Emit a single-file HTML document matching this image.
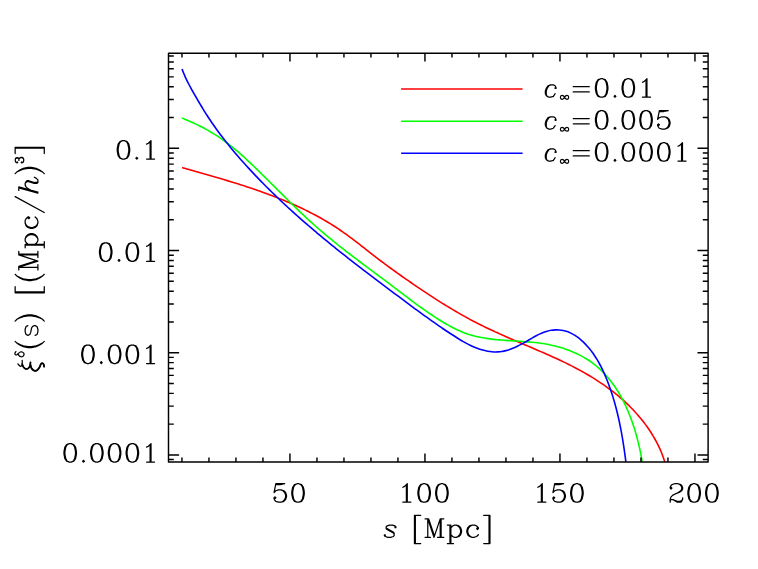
<!DOCTYPE html>
<html><head><meta charset="utf-8"><title>plot</title>
<style>html,body{margin:0;padding:0;background:#fff}svg{display:block;font-family:"Liberation Serif",serif}</style></head><body>
<svg width="758" height="569" viewBox="0 0 758 569">
<rect width="758" height="569" fill="#fff"/>
<g fill="none" stroke-width="1.6" stroke-linejoin="round">
<path stroke="#ff0000" d="M182.04 167.59 C182.61 167.75 184.34 168.24 185.49 168.56 C186.64 168.89 187.80 169.22 188.95 169.54 C190.11 169.87 191.26 170.19 192.42 170.52 C193.58 170.85 194.74 171.18 195.89 171.50 C197.05 171.83 198.21 172.16 199.37 172.49 C200.53 172.82 201.69 173.15 202.86 173.48 C204.02 173.81 205.18 174.14 206.34 174.48 C207.51 174.81 208.67 175.14 209.83 175.48 C211.00 175.81 212.16 176.15 213.32 176.49 C214.49 176.83 215.65 177.17 216.82 177.51 C217.98 177.85 219.15 178.19 220.31 178.53 C221.47 178.88 222.64 179.22 223.80 179.57 C224.97 179.92 226.13 180.27 227.29 180.62 C228.46 180.97 229.62 181.33 230.78 181.68 C231.95 182.04 233.11 182.40 234.27 182.76 C235.43 183.12 236.59 183.48 237.76 183.85 C238.92 184.21 240.08 184.58 241.24 184.95 C242.39 185.32 243.55 185.70 244.71 186.07 C245.87 186.45 247.02 186.83 248.18 187.21 C249.34 187.59 250.49 187.98 251.64 188.36 C252.80 188.75 253.95 189.14 255.10 189.54 C256.25 189.93 257.40 190.33 258.55 190.73 C259.70 191.14 260.84 191.54 261.99 191.95 C263.13 192.36 264.28 192.77 265.42 193.19 C266.56 193.60 267.70 194.03 268.84 194.45 C269.98 194.87 271.11 195.30 272.25 195.73 C273.38 196.17 274.52 196.60 275.65 197.04 C276.78 197.49 277.90 197.93 279.03 198.38 C280.16 198.83 281.28 199.29 282.40 199.74 C283.53 200.20 284.64 200.67 285.76 201.14 C286.88 201.60 287.99 202.08 289.11 202.56 C290.22 203.03 291.33 203.52 292.43 204.01 C293.54 204.49 294.64 204.99 295.75 205.49 C296.85 205.99 297.95 206.49 299.04 207.00 C300.14 207.51 301.23 208.02 302.32 208.54 C303.41 209.07 304.50 209.59 305.58 210.12 C306.66 210.66 307.74 211.19 308.82 211.74 C309.89 212.28 310.97 212.83 312.04 213.39 C313.11 213.94 314.17 214.51 315.24 215.07 C316.30 215.64 317.36 216.22 318.42 216.80 C319.47 217.38 320.52 217.97 321.57 218.56 C322.62 219.16 323.66 219.76 324.70 220.36 C325.74 220.97 326.78 221.59 327.81 222.21 C328.85 222.83 329.87 223.46 330.90 224.09 C331.92 224.73 332.94 225.37 333.96 226.02 C334.97 226.67 335.98 227.33 336.99 227.99 C338.00 228.66 339.00 229.33 340.00 230.01 C341.00 230.69 341.99 231.38 342.98 232.07 C343.97 232.76 344.95 233.46 345.93 234.17 C346.92 234.87 347.89 235.59 348.87 236.30 C349.84 237.02 350.82 237.74 351.79 238.47 C352.76 239.20 353.72 239.93 354.69 240.66 C355.65 241.39 356.62 242.13 357.58 242.87 C358.54 243.61 359.50 244.36 360.46 245.10 C361.42 245.84 362.37 246.59 363.33 247.34 C364.29 248.09 365.24 248.84 366.20 249.59 C367.15 250.33 368.11 251.08 369.07 251.83 C370.02 252.58 370.98 253.33 371.94 254.08 C372.89 254.83 373.85 255.57 374.81 256.32 C375.77 257.06 376.73 257.80 377.69 258.54 C378.66 259.28 379.62 260.02 380.59 260.75 C381.55 261.48 382.52 262.21 383.49 262.94 C384.46 263.67 385.43 264.39 386.41 265.11 C387.38 265.83 388.36 266.55 389.34 267.26 C390.31 267.98 391.29 268.69 392.28 269.40 C393.26 270.11 394.24 270.82 395.22 271.52 C396.21 272.23 397.19 272.93 398.18 273.63 C399.17 274.33 400.16 275.03 401.15 275.73 C402.14 276.43 403.13 277.13 404.12 277.82 C405.11 278.52 406.11 279.21 407.10 279.90 C408.10 280.59 409.09 281.28 410.09 281.97 C411.09 282.66 412.08 283.35 413.08 284.04 C414.08 284.73 415.08 285.41 416.08 286.09 C417.09 286.78 418.09 287.46 419.09 288.14 C420.10 288.82 421.10 289.50 422.11 290.17 C423.12 290.85 424.13 291.52 425.14 292.19 C426.15 292.86 427.16 293.53 428.17 294.20 C429.19 294.87 430.20 295.53 431.22 296.19 C432.23 296.86 433.25 297.52 434.27 298.17 C435.29 298.83 436.31 299.48 437.33 300.13 C438.36 300.78 439.38 301.43 440.41 302.08 C441.44 302.72 442.46 303.37 443.49 304.00 C444.52 304.64 445.56 305.28 446.59 305.91 C447.62 306.54 448.66 307.17 449.70 307.80 C450.74 308.42 451.78 309.05 452.82 309.66 C453.86 310.28 454.90 310.90 455.95 311.51 C457.00 312.12 458.05 312.72 459.10 313.33 C460.15 313.93 461.20 314.53 462.25 315.12 C463.31 315.72 464.37 316.31 465.43 316.90 C466.49 317.48 467.55 318.06 468.61 318.64 C469.68 319.22 470.74 319.79 471.81 320.36 C472.88 320.93 473.95 321.49 475.03 322.05 C476.10 322.61 477.18 323.16 478.26 323.71 C479.34 324.26 480.42 324.80 481.51 325.34 C482.59 325.88 483.68 326.41 484.77 326.94 C485.86 327.47 486.95 328.00 488.04 328.52 C489.14 329.04 490.23 329.56 491.33 330.07 C492.43 330.58 493.53 331.09 494.63 331.60 C495.73 332.10 496.83 332.60 497.94 333.10 C499.04 333.60 500.15 334.10 501.26 334.59 C502.36 335.09 503.47 335.58 504.58 336.07 C505.69 336.56 506.80 337.04 507.92 337.53 C509.03 338.01 510.14 338.50 511.25 338.98 C512.37 339.46 513.48 339.94 514.60 340.42 C515.71 340.89 516.83 341.37 517.94 341.85 C519.06 342.32 520.18 342.80 521.29 343.28 C522.41 343.75 523.52 344.23 524.64 344.70 C525.76 345.18 526.87 345.65 527.99 346.12 C529.11 346.60 530.22 347.08 531.34 347.55 C532.45 348.03 533.57 348.50 534.68 348.98 C535.80 349.46 536.91 349.94 538.02 350.42 C539.14 350.90 540.25 351.38 541.36 351.86 C542.47 352.35 543.58 352.83 544.69 353.32 C545.80 353.81 546.90 354.29 548.01 354.79 C549.12 355.28 550.22 355.77 551.32 356.27 C552.43 356.77 553.53 357.27 554.63 357.77 C555.73 358.27 556.82 358.78 557.92 359.29 C559.01 359.80 560.11 360.31 561.20 360.83 C562.29 361.35 563.38 361.87 564.47 362.40 C565.55 362.92 566.64 363.45 567.72 363.99 C568.80 364.52 569.88 365.06 570.95 365.61 C572.03 366.15 573.10 366.70 574.17 367.26 C575.25 367.81 576.31 368.37 577.38 368.94 C578.44 369.51 579.50 370.08 580.56 370.66 C581.62 371.24 582.67 371.82 583.72 372.41 C584.77 373.00 585.82 373.60 586.86 374.21 C587.90 374.81 588.94 375.42 589.98 376.04 C591.01 376.66 592.05 377.29 593.07 377.92 C594.10 378.55 595.12 379.20 596.14 379.85 C597.16 380.49 598.17 381.15 599.18 381.82 C600.19 382.48 601.20 383.16 602.20 383.84 C603.20 384.52 604.19 385.22 605.18 385.92 C606.17 386.62 607.16 387.33 608.14 388.04 C609.12 388.76 610.09 389.49 611.06 390.22 C612.02 390.96 612.98 391.70 613.94 392.46 C614.89 393.21 615.84 393.97 616.78 394.74 C617.72 395.51 618.65 396.29 619.58 397.08 C620.51 397.87 621.42 398.66 622.33 399.47 C623.24 400.27 624.15 401.09 625.04 401.91 C625.93 402.73 626.82 403.57 627.70 404.41 C628.57 405.25 629.44 406.10 630.30 406.96 C631.15 407.81 632.00 408.68 632.84 409.56 C633.68 410.43 634.51 411.32 635.33 412.21 C636.15 413.10 636.95 414.01 637.75 414.92 C638.55 415.83 639.34 416.75 640.11 417.68 C640.89 418.60 641.65 419.54 642.40 420.49 C643.16 421.44 643.90 422.39 644.63 423.35 C645.35 424.32 646.07 425.29 646.77 426.27 C647.48 427.26 648.17 428.25 648.85 429.25 C649.53 430.25 650.19 431.25 650.84 432.27 C651.50 433.29 652.13 434.31 652.76 435.35 C653.38 436.38 653.99 437.43 654.59 438.48 C655.18 439.53 655.77 440.60 656.33 441.67 C656.90 442.74 657.45 443.82 657.99 444.91 C658.52 445.99 659.04 447.09 659.55 448.20 C660.05 449.30 660.54 450.42 661.02 451.54 C661.49 452.67 661.95 453.80 662.39 454.94 C662.83 456.09 663.25 457.24 663.66 458.40 C664.06 459.56 664.63 461.32 664.82 461.90"/>
<path stroke="#00ff00" d="M181.81 118.01 C182.40 118.25 184.18 118.97 185.36 119.47 C186.54 119.96 187.72 120.46 188.89 120.97 C190.07 121.48 191.24 122.00 192.40 122.53 C193.56 123.06 194.72 123.60 195.87 124.14 C197.03 124.69 198.17 125.25 199.32 125.81 C200.46 126.38 201.59 126.95 202.72 127.54 C203.85 128.13 204.97 128.72 206.08 129.33 C207.20 129.94 208.30 130.56 209.40 131.19 C210.50 131.82 211.59 132.46 212.67 133.11 C213.75 133.77 214.83 134.43 215.89 135.11 C216.95 135.79 218.01 136.48 219.05 137.18 C220.10 137.88 221.13 138.60 222.16 139.32 C223.19 140.05 224.20 140.79 225.21 141.53 C226.22 142.28 227.22 143.04 228.22 143.81 C229.21 144.58 230.20 145.36 231.18 146.14 C232.16 146.93 233.13 147.73 234.10 148.53 C235.07 149.34 236.03 150.15 236.98 150.97 C237.94 151.79 238.89 152.61 239.83 153.44 C240.78 154.28 241.72 155.12 242.65 155.96 C243.59 156.80 244.52 157.65 245.45 158.50 C246.38 159.36 247.31 160.22 248.23 161.08 C249.15 161.94 250.07 162.80 250.99 163.67 C251.91 164.54 252.82 165.41 253.73 166.28 C254.65 167.15 255.56 168.03 256.47 168.90 C257.38 169.78 258.29 170.66 259.19 171.54 C260.10 172.43 261.00 173.31 261.91 174.20 C262.81 175.08 263.71 175.97 264.61 176.86 C265.52 177.75 266.42 178.64 267.31 179.53 C268.21 180.42 269.11 181.31 270.01 182.20 C270.91 183.10 271.81 183.99 272.70 184.88 C273.60 185.78 274.50 186.67 275.39 187.57 C276.29 188.46 277.18 189.36 278.08 190.26 C278.98 191.15 279.87 192.05 280.77 192.94 C281.67 193.84 282.57 194.73 283.46 195.62 C284.36 196.52 285.26 197.41 286.16 198.30 C287.06 199.19 287.96 200.09 288.86 200.98 C289.76 201.87 290.67 202.75 291.57 203.64 C292.48 204.53 293.38 205.41 294.29 206.30 C295.20 207.18 296.10 208.06 297.01 208.94 C297.93 209.82 298.84 210.70 299.75 211.57 C300.67 212.45 301.58 213.32 302.50 214.19 C303.42 215.06 304.34 215.93 305.27 216.79 C306.19 217.66 307.12 218.52 308.05 219.37 C308.98 220.23 309.91 221.09 310.84 221.94 C311.78 222.79 312.72 223.63 313.66 224.48 C314.60 225.32 315.54 226.16 316.49 226.99 C317.44 227.83 318.39 228.66 319.35 229.49 C320.30 230.31 321.26 231.14 322.22 231.96 C323.18 232.78 324.15 233.59 325.12 234.40 C326.08 235.22 327.05 236.02 328.03 236.83 C329.00 237.64 329.97 238.44 330.95 239.24 C331.93 240.04 332.91 240.83 333.90 241.63 C334.88 242.42 335.86 243.21 336.85 244.00 C337.84 244.79 338.83 245.57 339.82 246.35 C340.81 247.14 341.81 247.92 342.80 248.69 C343.80 249.47 344.80 250.25 345.80 251.02 C346.80 251.80 347.80 252.57 348.80 253.34 C349.80 254.11 350.81 254.88 351.81 255.65 C352.82 256.41 353.83 257.18 354.83 257.94 C355.84 258.71 356.85 259.47 357.86 260.23 C358.87 260.99 359.88 261.75 360.89 262.51 C361.91 263.27 362.92 264.03 363.93 264.79 C364.95 265.55 365.96 266.30 366.97 267.06 C367.99 267.82 369.00 268.57 370.02 269.33 C371.03 270.08 372.05 270.84 373.06 271.59 C374.08 272.35 375.10 273.11 376.11 273.86 C377.13 274.62 378.14 275.37 379.16 276.13 C380.17 276.88 381.19 277.64 382.20 278.40 C383.22 279.15 384.23 279.91 385.24 280.67 C386.26 281.43 387.27 282.19 388.28 282.95 C389.30 283.71 390.31 284.47 391.32 285.23 C392.33 285.99 393.34 286.75 394.34 287.52 C395.35 288.28 396.36 289.05 397.37 289.81 C398.38 290.58 399.38 291.35 400.39 292.11 C401.40 292.88 402.40 293.65 403.41 294.41 C404.42 295.18 405.43 295.94 406.44 296.71 C407.45 297.47 408.46 298.23 409.47 298.99 C410.48 299.75 411.49 300.51 412.51 301.27 C413.52 302.03 414.54 302.78 415.56 303.53 C416.58 304.29 417.60 305.04 418.63 305.78 C419.65 306.53 420.68 307.27 421.71 308.01 C422.75 308.75 423.78 309.48 424.82 310.21 C425.86 310.94 426.90 311.67 427.95 312.39 C429.00 313.11 430.05 313.82 431.10 314.53 C432.16 315.24 433.22 315.95 434.29 316.64 C435.35 317.34 436.42 318.03 437.50 318.72 C438.58 319.41 439.66 320.09 440.75 320.76 C441.84 321.43 442.93 322.09 444.04 322.74 C445.14 323.40 446.24 324.04 447.36 324.67 C448.47 325.30 449.59 325.92 450.72 326.52 C451.84 327.13 452.97 327.72 454.11 328.28 C455.25 328.85 456.39 329.41 457.54 329.94 C458.69 330.47 459.84 330.99 461.00 331.48 C462.17 331.97 463.33 332.44 464.51 332.88 C465.68 333.33 466.86 333.74 468.04 334.14 C469.22 334.53 470.42 334.90 471.61 335.24 C472.81 335.58 474.01 335.90 475.21 336.20 C476.42 336.50 477.63 336.78 478.84 337.04 C480.06 337.30 481.28 337.53 482.50 337.76 C483.73 337.98 484.95 338.18 486.19 338.37 C487.42 338.56 488.65 338.74 489.89 338.90 C491.13 339.06 492.37 339.21 493.62 339.34 C494.86 339.48 496.11 339.61 497.36 339.72 C498.62 339.84 499.87 339.95 501.13 340.05 C502.38 340.15 503.64 340.24 504.90 340.33 C506.16 340.42 507.42 340.50 508.69 340.59 C509.95 340.67 511.22 340.75 512.48 340.82 C513.75 340.90 515.02 340.98 516.29 341.06 C517.55 341.13 518.82 341.21 520.09 341.30 C521.36 341.38 522.63 341.46 523.90 341.56 C525.17 341.65 526.44 341.74 527.71 341.85 C528.98 341.95 530.25 342.06 531.52 342.18 C532.79 342.31 534.06 342.43 535.32 342.58 C536.59 342.72 537.86 342.87 539.12 343.04 C540.39 343.21 541.65 343.39 542.91 343.58 C544.17 343.78 545.43 343.99 546.69 344.22 C547.94 344.45 549.20 344.70 550.45 344.96 C551.70 345.23 552.95 345.51 554.19 345.81 C555.43 346.11 556.67 346.43 557.90 346.77 C559.14 347.11 560.36 347.46 561.58 347.84 C562.80 348.21 564.02 348.60 565.22 349.02 C566.43 349.43 567.63 349.86 568.82 350.31 C570.00 350.76 571.18 351.23 572.35 351.72 C573.52 352.21 574.68 352.72 575.83 353.24 C576.98 353.77 578.11 354.32 579.24 354.89 C580.36 355.45 581.47 356.04 582.57 356.65 C583.67 357.26 584.75 357.89 585.82 358.54 C586.89 359.18 587.95 359.85 588.99 360.54 C590.03 361.24 591.05 361.95 592.06 362.68 C593.06 363.41 594.05 364.16 595.03 364.94 C596.00 365.71 596.95 366.51 597.89 367.33 C598.83 368.14 599.74 368.98 600.65 369.83 C601.55 370.69 602.43 371.56 603.30 372.45 C604.17 373.35 605.02 374.26 605.86 375.18 C606.69 376.11 607.51 377.06 608.31 378.02 C609.11 378.98 609.90 379.96 610.67 380.95 C611.44 381.94 612.19 382.95 612.93 383.97 C613.67 384.99 614.39 386.03 615.10 387.07 C615.81 388.12 616.50 389.19 617.18 390.26 C617.86 391.33 618.52 392.42 619.17 393.52 C619.81 394.61 620.45 395.72 621.06 396.84 C621.68 397.96 622.29 399.09 622.88 400.23 C623.47 401.37 624.04 402.52 624.60 403.67 C625.17 404.83 625.71 405.99 626.25 407.16 C626.78 408.33 627.30 409.51 627.81 410.70 C628.32 411.88 628.81 413.07 629.29 414.27 C629.77 415.47 630.24 416.67 630.70 417.87 C631.15 419.08 631.60 420.29 632.03 421.51 C632.46 422.72 632.88 423.94 633.28 425.16 C633.69 426.37 634.08 427.60 634.47 428.82 C634.85 430.04 635.22 431.27 635.58 432.49 C635.94 433.72 636.29 434.94 636.62 436.17 C636.96 437.39 637.28 438.61 637.60 439.84 C637.91 441.06 638.22 442.28 638.51 443.50 C638.80 444.71 639.08 445.93 639.36 447.14 C639.63 448.35 639.89 449.56 640.14 450.76 C640.39 451.97 640.64 453.17 640.87 454.36 C641.10 455.55 641.32 456.74 641.54 457.92 C641.75 459.10 642.05 460.86 642.15 461.45"/>
<path stroke="#0000ff" d="M182.03 68.94 C182.27 69.58 182.97 71.53 183.49 72.81 C184.00 74.09 184.54 75.35 185.10 76.60 C185.66 77.85 186.25 79.09 186.85 80.33 C187.45 81.56 188.07 82.78 188.70 84.00 C189.34 85.22 189.99 86.43 190.65 87.63 C191.30 88.84 191.97 90.04 192.65 91.24 C193.32 92.44 194.00 93.63 194.68 94.83 C195.36 96.02 196.05 97.22 196.74 98.41 C197.43 99.60 198.12 100.79 198.82 101.98 C199.52 103.16 200.23 104.35 200.94 105.53 C201.65 106.71 202.36 107.89 203.09 109.06 C203.81 110.24 204.53 111.41 205.27 112.57 C206.00 113.74 206.74 114.90 207.49 116.05 C208.24 117.21 208.99 118.36 209.76 119.51 C210.52 120.65 211.29 121.79 212.07 122.93 C212.85 124.06 213.63 125.19 214.42 126.32 C215.22 127.44 216.02 128.56 216.82 129.68 C217.63 130.79 218.44 131.90 219.26 133.01 C220.08 134.11 220.90 135.21 221.74 136.31 C222.57 137.40 223.41 138.49 224.25 139.58 C225.10 140.66 225.95 141.74 226.80 142.82 C227.66 143.90 228.52 144.97 229.39 146.04 C230.25 147.10 231.13 148.17 232.00 149.23 C232.88 150.29 233.77 151.34 234.65 152.39 C235.54 153.44 236.43 154.49 237.33 155.53 C238.23 156.57 239.13 157.61 240.04 158.65 C240.94 159.68 241.86 160.71 242.77 161.74 C243.69 162.77 244.61 163.79 245.53 164.81 C246.45 165.83 247.38 166.85 248.31 167.86 C249.24 168.87 250.17 169.88 251.11 170.89 C252.05 171.90 252.99 172.90 253.93 173.90 C254.88 174.90 255.82 175.89 256.78 176.89 C257.73 177.88 258.68 178.87 259.64 179.86 C260.59 180.84 261.55 181.83 262.52 182.81 C263.48 183.79 264.45 184.77 265.42 185.74 C266.39 186.71 267.36 187.69 268.34 188.65 C269.31 189.62 270.29 190.59 271.27 191.55 C272.25 192.51 273.24 193.47 274.22 194.43 C275.21 195.38 276.20 196.34 277.19 197.29 C278.19 198.24 279.18 199.19 280.18 200.13 C281.18 201.08 282.18 202.02 283.18 202.96 C284.19 203.90 285.19 204.84 286.20 205.77 C287.21 206.70 288.22 207.64 289.24 208.56 C290.25 209.49 291.27 210.42 292.29 211.34 C293.31 212.27 294.33 213.19 295.35 214.11 C296.37 215.02 297.40 215.94 298.43 216.85 C299.46 217.77 300.49 218.68 301.52 219.59 C302.55 220.50 303.59 221.40 304.63 222.31 C305.66 223.21 306.70 224.11 307.74 225.01 C308.79 225.91 309.83 226.81 310.87 227.70 C311.92 228.60 312.97 229.49 314.02 230.38 C315.07 231.27 316.12 232.16 317.17 233.05 C318.22 233.93 319.28 234.82 320.34 235.70 C321.39 236.58 322.45 237.46 323.51 238.34 C324.57 239.21 325.64 240.09 326.70 240.96 C327.76 241.84 328.83 242.71 329.90 243.58 C330.97 244.45 332.03 245.32 333.10 246.18 C334.17 247.05 335.25 247.91 336.32 248.78 C337.39 249.64 338.47 250.50 339.55 251.36 C340.62 252.22 341.70 253.08 342.78 253.93 C343.86 254.79 344.94 255.64 346.02 256.49 C347.10 257.35 348.18 258.20 349.27 259.05 C350.35 259.89 351.44 260.74 352.52 261.59 C353.61 262.43 354.70 263.28 355.79 264.12 C356.88 264.96 357.97 265.81 359.06 266.65 C360.15 267.49 361.24 268.32 362.33 269.16 C363.42 270.00 364.52 270.84 365.61 271.67 C366.70 272.51 367.80 273.34 368.89 274.17 C369.99 275.01 371.09 275.84 372.18 276.67 C373.28 277.50 374.38 278.33 375.47 279.16 C376.57 279.99 377.67 280.82 378.77 281.65 C379.87 282.47 380.96 283.30 382.06 284.13 C383.16 284.95 384.26 285.78 385.36 286.60 C386.46 287.43 387.56 288.25 388.66 289.08 C389.76 289.90 390.86 290.72 391.96 291.55 C393.06 292.37 394.16 293.19 395.26 294.02 C396.36 294.84 397.46 295.66 398.55 296.48 C399.65 297.30 400.75 298.13 401.85 298.95 C402.95 299.77 404.05 300.59 405.15 301.41 C406.25 302.23 407.35 303.05 408.45 303.87 C409.55 304.69 410.65 305.51 411.75 306.32 C412.85 307.14 413.95 307.95 415.06 308.77 C416.16 309.58 417.26 310.40 418.37 311.21 C419.48 312.02 420.58 312.83 421.69 313.63 C422.80 314.44 423.91 315.25 425.03 316.05 C426.14 316.85 427.25 317.66 428.37 318.45 C429.49 319.25 430.61 320.05 431.73 320.84 C432.85 321.64 433.98 322.43 435.10 323.22 C436.23 324.01 437.36 324.79 438.49 325.57 C439.63 326.36 440.76 327.13 441.90 327.91 C443.04 328.69 444.19 329.46 445.33 330.23 C446.48 331.00 447.63 331.76 448.78 332.52 C449.94 333.28 451.10 334.04 452.26 334.79 C453.42 335.55 454.59 336.30 455.76 337.04 C456.93 337.78 458.11 338.52 459.29 339.24 C460.48 339.96 461.67 340.67 462.87 341.36 C464.07 342.05 465.28 342.72 466.50 343.37 C467.72 344.02 468.95 344.65 470.19 345.25 C471.43 345.85 472.69 346.43 473.96 346.97 C475.22 347.51 476.51 348.02 477.80 348.49 C479.10 348.96 480.42 349.40 481.74 349.79 C483.07 350.18 484.42 350.53 485.76 350.83 C487.11 351.12 488.47 351.37 489.82 351.56 C491.18 351.74 492.54 351.87 493.89 351.93 C495.24 351.99 496.59 351.98 497.92 351.90 C499.26 351.82 500.58 351.67 501.90 351.45 C503.22 351.23 504.52 350.95 505.82 350.61 C507.12 350.27 508.41 349.87 509.69 349.43 C510.97 348.99 512.24 348.50 513.51 347.97 C514.77 347.44 516.03 346.87 517.28 346.27 C518.53 345.67 519.78 345.03 521.02 344.38 C522.25 343.72 523.49 343.04 524.71 342.35 C525.94 341.66 527.16 340.94 528.38 340.23 C529.60 339.52 530.81 338.80 532.03 338.10 C533.26 337.40 534.48 336.70 535.71 336.04 C536.95 335.38 538.19 334.73 539.45 334.14 C540.71 333.56 541.98 333.00 543.27 332.51 C544.56 332.02 545.87 331.57 547.18 331.21 C548.49 330.84 549.82 330.53 551.16 330.31 C552.49 330.09 553.83 329.94 555.18 329.89 C556.52 329.83 557.87 329.86 559.21 329.97 C560.55 330.08 561.89 330.27 563.21 330.54 C564.53 330.81 565.84 331.16 567.13 331.59 C568.41 332.01 569.68 332.52 570.91 333.10 C572.14 333.68 573.34 334.34 574.51 335.06 C575.68 335.77 576.82 336.57 577.93 337.40 C579.03 338.23 580.11 339.12 581.15 340.04 C582.20 340.95 583.21 341.92 584.19 342.90 C585.18 343.87 586.13 344.88 587.05 345.91 C587.97 346.93 588.87 347.98 589.73 349.05 C590.60 350.12 591.44 351.21 592.25 352.32 C593.06 353.43 593.85 354.55 594.61 355.70 C595.37 356.84 596.11 358.00 596.83 359.17 C597.54 360.35 598.23 361.54 598.90 362.74 C599.58 363.94 600.23 365.16 600.86 366.39 C601.49 367.61 602.10 368.85 602.69 370.10 C603.28 371.35 603.86 372.60 604.42 373.87 C604.98 375.13 605.52 376.40 606.04 377.68 C606.57 378.96 607.08 380.24 607.58 381.53 C608.08 382.81 608.57 384.10 609.04 385.40 C609.52 386.69 609.98 387.99 610.43 389.28 C610.88 390.58 611.31 391.89 611.74 393.19 C612.17 394.50 612.58 395.81 612.98 397.12 C613.39 398.43 613.78 399.74 614.16 401.06 C614.54 402.38 614.91 403.70 615.27 405.02 C615.63 406.34 615.99 407.67 616.33 409.00 C616.67 410.32 617.00 411.65 617.32 412.99 C617.65 414.32 617.96 415.65 618.27 416.99 C618.57 418.33 618.87 419.67 619.16 421.01 C619.44 422.35 619.72 423.70 620.00 425.04 C620.27 426.39 620.53 427.73 620.79 429.08 C621.05 430.43 621.30 431.79 621.55 433.14 C621.79 434.49 622.03 435.85 622.26 437.21 C622.49 438.56 622.72 439.92 622.94 441.28 C623.16 442.64 623.37 444.00 623.58 445.37 C623.79 446.73 623.99 448.09 624.19 449.46 C624.39 450.82 624.58 452.19 624.77 453.56 C624.96 454.93 625.15 456.30 625.33 457.67 C625.51 459.04 625.78 461.10 625.87 461.78"/>
</g>
<g stroke-width="1.5">
<line x1="401.1" x2="522.6" y1="89.1" y2="89.1" stroke="#ff0000"/>
<line x1="401.1" x2="522.6" y1="121.2" y2="121.2" stroke="#00ff00"/>
<line x1="401.1" x2="522.6" y1="153.2" y2="153.2" stroke="#0000ff"/>
</g>
<path d="M168.50 53.20 H708.10 V462.00 H168.50 ZM181.95 462.00v-4.40M181.95 53.20v4.40M208.95 462.00v-4.40M208.95 53.20v4.40M235.95 462.00v-4.40M235.95 53.20v4.40M262.95 462.00v-4.40M262.95 53.20v4.40M289.95 462.00v-8.40M289.95 53.20v8.40M316.95 462.00v-4.40M316.95 53.20v4.40M343.95 462.00v-4.40M343.95 53.20v4.40M370.95 462.00v-4.40M370.95 53.20v4.40M397.95 462.00v-4.40M397.95 53.20v4.40M424.95 462.00v-8.40M424.95 53.20v8.40M451.95 462.00v-4.40M451.95 53.20v4.40M478.95 462.00v-4.40M478.95 53.20v4.40M505.95 462.00v-4.40M505.95 53.20v4.40M532.95 462.00v-4.40M532.95 53.20v4.40M559.95 462.00v-8.40M559.95 53.20v8.40M586.95 462.00v-4.40M586.95 53.20v4.40M613.95 462.00v-4.40M613.95 53.20v4.40M640.95 462.00v-4.40M640.95 53.20v4.40M667.95 462.00v-4.40M667.95 53.20v4.40M694.95 462.00v-8.40M694.95 53.20v8.40M168.50 459.58h5.30M708.10 459.58h-5.30M168.50 454.90h10.60M708.10 454.90h-10.60M168.50 424.13h5.30M708.10 424.13h-5.30M168.50 406.14h5.30M708.10 406.14h-5.30M168.50 393.37h5.30M708.10 393.37h-5.30M168.50 383.47h5.30M708.10 383.47h-5.30M168.50 375.37h5.30M708.10 375.37h-5.30M168.50 368.53h5.30M708.10 368.53h-5.30M168.50 362.60h5.30M708.10 362.60h-5.30M168.50 357.38h5.30M708.10 357.38h-5.30M168.50 352.70h10.60M708.10 352.70h-10.60M168.50 321.93h5.30M708.10 321.93h-5.30M168.50 303.94h5.30M708.10 303.94h-5.30M168.50 291.17h5.30M708.10 291.17h-5.30M168.50 281.27h5.30M708.10 281.27h-5.30M168.50 273.17h5.30M708.10 273.17h-5.30M168.50 266.33h5.30M708.10 266.33h-5.30M168.50 260.40h5.30M708.10 260.40h-5.30M168.50 255.18h5.30M708.10 255.18h-5.30M168.50 250.50h10.60M708.10 250.50h-10.60M168.50 219.73h5.30M708.10 219.73h-5.30M168.50 201.74h5.30M708.10 201.74h-5.30M168.50 188.97h5.30M708.10 188.97h-5.30M168.50 179.07h5.30M708.10 179.07h-5.30M168.50 170.97h5.30M708.10 170.97h-5.30M168.50 164.13h5.30M708.10 164.13h-5.30M168.50 158.20h5.30M708.10 158.20h-5.30M168.50 152.98h5.30M708.10 152.98h-5.30M168.50 148.30h10.60M708.10 148.30h-10.60M168.50 117.53h5.30M708.10 117.53h-5.30M168.50 99.54h5.30M708.10 99.54h-5.30M168.50 86.77h5.30M708.10 86.77h-5.30M168.50 76.87h5.30M708.10 76.87h-5.30M168.50 68.77h5.30M708.10 68.77h-5.30M168.50 61.93h5.30M708.10 61.93h-5.30M168.50 56.00h5.30M708.10 56.00h-5.30" fill="none" stroke="#000" stroke-width="1.45" stroke-linejoin="round"/>
<path d="M118.15 144.14L117.26 148.54L117.26 151.18L118.15 155.58L119.93 158.22L122.59 159.10L120.82 158.22L119.93 157.34L119.04 155.58L118.15 151.18L118.15 148.54L119.04 144.14L119.93 142.38L120.82 141.50L122.59 140.62L119.93 141.50L118.15 144.14M127.92 144.14L128.81 148.54L128.81 151.18L127.92 155.58L127.03 157.34L126.14 158.22L124.37 159.10L127.03 158.22L128.81 155.58L129.70 151.18L129.70 148.54L128.81 144.14L127.03 141.50L124.37 140.62L126.14 141.50L127.03 142.38L127.92 144.14M122.59 140.62L124.37 140.62M122.59 159.10L124.37 159.10M136.80 157.34L135.91 158.22L136.80 159.10L137.69 158.22L136.80 157.34M151.01 159.10L151.01 140.62L148.34 143.26L146.57 144.14M150.12 141.50L150.12 159.10M146.57 159.10L154.56 159.10M100.39 246.34L99.50 250.74L99.50 253.38L100.39 257.78L102.17 260.42L104.83 261.30L103.06 260.42L102.17 259.54L101.28 257.78L100.39 253.38L100.39 250.74L101.28 246.34L102.17 244.58L103.06 243.70L104.83 242.82L102.17 243.70L100.39 246.34M110.16 246.34L111.05 250.74L111.05 253.38L110.16 257.78L109.27 259.54L108.38 260.42L106.61 261.30L109.27 260.42L111.05 257.78L111.94 253.38L111.94 250.74L111.05 246.34L109.27 243.70L106.61 242.82L108.38 243.70L109.27 244.58L110.16 246.34M104.83 242.82L106.61 242.82M104.83 261.30L106.61 261.30M119.04 259.54L118.15 260.42L119.04 261.30L119.93 260.42L119.04 259.54M127.03 246.34L126.14 250.74L126.14 253.38L127.03 257.78L128.81 260.42L131.47 261.30L129.70 260.42L128.81 259.54L127.92 257.78L127.03 253.38L127.03 250.74L127.92 246.34L128.81 244.58L129.70 243.70L131.47 242.82L128.81 243.70L127.03 246.34M136.80 246.34L137.69 250.74L137.69 253.38L136.80 257.78L135.91 259.54L135.02 260.42L133.25 261.30L135.91 260.42L137.69 257.78L138.58 253.38L138.58 250.74L137.69 246.34L135.91 243.70L133.25 242.82L135.02 243.70L135.91 244.58L136.80 246.34M131.47 242.82L133.25 242.82M131.47 261.30L133.25 261.30M151.01 261.30L151.01 242.82L148.34 245.46L146.57 246.34M150.12 243.70L150.12 261.30M146.57 261.30L154.56 261.30M82.63 348.54L81.74 352.94L81.74 355.58L82.63 359.98L84.41 362.62L87.07 363.50L85.30 362.62L84.41 361.74L83.52 359.98L82.63 355.58L82.63 352.94L83.52 348.54L84.41 346.78L85.30 345.90L87.07 345.02L84.41 345.90L82.63 348.54M92.40 348.54L93.29 352.94L93.29 355.58L92.40 359.98L91.51 361.74L90.62 362.62L88.85 363.50L91.51 362.62L93.29 359.98L94.18 355.58L94.18 352.94L93.29 348.54L91.51 345.90L88.85 345.02L90.62 345.90L91.51 346.78L92.40 348.54M87.07 345.02L88.85 345.02M87.07 363.50L88.85 363.50M101.28 361.74L100.39 362.62L101.28 363.50L102.17 362.62L101.28 361.74M109.27 348.54L108.38 352.94L108.38 355.58L109.27 359.98L111.05 362.62L113.71 363.50L111.94 362.62L111.05 361.74L110.16 359.98L109.27 355.58L109.27 352.94L110.16 348.54L111.05 346.78L111.94 345.90L113.71 345.02L111.05 345.90L109.27 348.54M119.04 348.54L119.93 352.94L119.93 355.58L119.04 359.98L118.15 361.74L117.26 362.62L115.49 363.50L118.15 362.62L119.93 359.98L120.82 355.58L120.82 352.94L119.93 348.54L118.15 345.90L115.49 345.02L117.26 345.90L118.15 346.78L119.04 348.54M113.71 345.02L115.49 345.02M113.71 363.50L115.49 363.50M127.03 348.54L126.14 352.94L126.14 355.58L127.03 359.98L128.81 362.62L131.47 363.50L129.70 362.62L128.81 361.74L127.92 359.98L127.03 355.58L127.03 352.94L127.92 348.54L128.81 346.78L129.70 345.90L131.47 345.02L128.81 345.90L127.03 348.54M136.80 348.54L137.69 352.94L137.69 355.58L136.80 359.98L135.91 361.74L135.02 362.62L133.25 363.50L135.91 362.62L137.69 359.98L138.58 355.58L138.58 352.94L137.69 348.54L135.91 345.90L133.25 345.02L135.02 345.90L135.91 346.78L136.80 348.54M131.47 345.02L133.25 345.02M131.47 363.50L133.25 363.50M151.01 363.50L151.01 345.02L148.34 347.66L146.57 348.54M150.12 345.90L150.12 363.50M146.57 363.50L154.56 363.50M64.87 447.14L63.98 451.54L63.98 454.18L64.87 458.58L66.65 461.22L69.31 462.10L67.54 461.22L66.65 460.34L65.76 458.58L64.87 454.18L64.87 451.54L65.76 447.14L66.65 445.38L67.54 444.50L69.31 443.62L66.65 444.50L64.87 447.14M74.64 447.14L75.53 451.54L75.53 454.18L74.64 458.58L73.75 460.34L72.86 461.22L71.09 462.10L73.75 461.22L75.53 458.58L76.42 454.18L76.42 451.54L75.53 447.14L73.75 444.50L71.09 443.62L72.86 444.50L73.75 445.38L74.64 447.14M69.31 443.62L71.09 443.62M69.31 462.10L71.09 462.10M83.52 460.34L82.63 461.22L83.52 462.10L84.41 461.22L83.52 460.34M91.51 447.14L90.62 451.54L90.62 454.18L91.51 458.58L93.29 461.22L95.95 462.10L94.18 461.22L93.29 460.34L92.40 458.58L91.51 454.18L91.51 451.54L92.40 447.14L93.29 445.38L94.18 444.50L95.95 443.62L93.29 444.50L91.51 447.14M101.28 447.14L102.17 451.54L102.17 454.18L101.28 458.58L100.39 460.34L99.50 461.22L97.73 462.10L100.39 461.22L102.17 458.58L103.06 454.18L103.06 451.54L102.17 447.14L100.39 444.50L97.73 443.62L99.50 444.50L100.39 445.38L101.28 447.14M95.95 443.62L97.73 443.62M95.95 462.10L97.73 462.10M109.27 447.14L108.38 451.54L108.38 454.18L109.27 458.58L111.05 461.22L113.71 462.10L111.94 461.22L111.05 460.34L110.16 458.58L109.27 454.18L109.27 451.54L110.16 447.14L111.05 445.38L111.94 444.50L113.71 443.62L111.05 444.50L109.27 447.14M119.04 447.14L119.93 451.54L119.93 454.18L119.04 458.58L118.15 460.34L117.26 461.22L115.49 462.10L118.15 461.22L119.93 458.58L120.82 454.18L120.82 451.54L119.93 447.14L118.15 444.50L115.49 443.62L117.26 444.50L118.15 445.38L119.04 447.14M113.71 443.62L115.49 443.62M113.71 462.10L115.49 462.10M127.03 447.14L126.14 451.54L126.14 454.18L127.03 458.58L128.81 461.22L131.47 462.10L129.70 461.22L128.81 460.34L127.92 458.58L127.03 454.18L127.03 451.54L127.92 447.14L128.81 445.38L129.70 444.50L131.47 443.62L128.81 444.50L127.03 447.14M136.80 447.14L137.69 451.54L137.69 454.18L136.80 458.58L135.91 460.34L135.02 461.22L133.25 462.10L135.91 461.22L137.69 458.58L138.58 454.18L138.58 451.54L137.69 447.14L135.91 444.50L133.25 443.62L135.02 444.50L135.91 445.38L136.80 447.14M131.47 443.62L133.25 443.62M131.47 462.10L133.25 462.10M151.01 462.10L151.01 443.62L148.34 446.26L146.57 447.14M150.12 444.50L150.12 462.10M146.57 462.10L154.56 462.10M275.83 484.60L280.27 484.60L284.71 483.72L275.83 483.72L274.05 492.52L275.83 490.76L278.49 489.88L281.16 489.88L283.82 490.76L285.60 492.52L286.49 495.16L286.49 496.92L285.60 499.56L283.82 501.32L281.16 502.20L278.49 502.20L275.83 501.32L274.94 500.44L274.05 498.68L274.05 497.80L274.94 496.92L275.83 497.80L274.94 498.68M281.16 489.88L282.93 490.76L284.71 492.52L285.60 495.16L285.60 496.92L284.71 499.56L282.93 501.32L281.16 502.20M292.70 487.24L291.81 491.64L291.81 494.28L292.70 498.68L294.48 501.32L297.14 502.20L295.37 501.32L294.48 500.44L293.59 498.68L292.70 494.28L292.70 491.64L293.59 487.24L294.48 485.48L295.37 484.60L297.14 483.72L294.48 484.60L292.70 487.24M302.47 487.24L303.36 491.64L303.36 494.28L302.47 498.68L301.58 500.44L300.69 501.32L298.92 502.20L301.58 501.32L303.36 498.68L304.25 494.28L304.25 491.64L303.36 487.24L301.58 484.60L298.92 483.72L300.69 484.60L301.58 485.48L302.47 487.24M297.14 483.72L298.92 483.72M297.14 502.20L298.92 502.20M407.28 502.20L407.28 483.72L404.61 486.36L402.84 487.24M406.39 484.60L406.39 502.20M402.84 502.20L410.83 502.20M418.82 487.24L417.93 491.64L417.93 494.28L418.82 498.68L420.60 501.32L423.26 502.20L421.49 501.32L420.60 500.44L419.71 498.68L418.82 494.28L418.82 491.64L419.71 487.24L420.60 485.48L421.49 484.60L423.26 483.72L420.60 484.60L418.82 487.24M428.59 487.24L429.48 491.64L429.48 494.28L428.59 498.68L427.70 500.44L426.81 501.32L425.04 502.20L427.70 501.32L429.48 498.68L430.37 494.28L430.37 491.64L429.48 487.24L427.70 484.60L425.04 483.72L426.81 484.60L427.70 485.48L428.59 487.24M423.26 483.72L425.04 483.72M423.26 502.20L425.04 502.20M436.58 487.24L435.69 491.64L435.69 494.28L436.58 498.68L438.36 501.32L441.02 502.20L439.25 501.32L438.36 500.44L437.47 498.68L436.58 494.28L436.58 491.64L437.47 487.24L438.36 485.48L439.25 484.60L441.02 483.72L438.36 484.60L436.58 487.24M446.35 487.24L447.24 491.64L447.24 494.28L446.35 498.68L445.46 500.44L444.57 501.32L442.80 502.20L445.46 501.32L447.24 498.68L448.13 494.28L448.13 491.64L447.24 487.24L445.46 484.60L442.80 483.72L444.57 484.60L445.46 485.48L446.35 487.24M441.02 483.72L442.80 483.72M441.02 502.20L442.80 502.20M542.28 502.20L542.28 483.72L539.61 486.36L537.84 487.24M541.39 484.60L541.39 502.20M537.84 502.20L545.83 502.20M554.71 484.60L559.15 484.60L563.59 483.72L554.71 483.72L552.93 492.52L554.71 490.76L557.37 489.88L560.04 489.88L562.70 490.76L564.48 492.52L565.37 495.16L565.37 496.92L564.48 499.56L562.70 501.32L560.04 502.20L557.37 502.20L554.71 501.32L553.82 500.44L552.93 498.68L552.93 497.80L553.82 496.92L554.71 497.80L553.82 498.68M560.04 489.88L561.81 490.76L563.59 492.52L564.48 495.16L564.48 496.92L563.59 499.56L561.81 501.32L560.04 502.20M571.58 487.24L570.69 491.64L570.69 494.28L571.58 498.68L573.36 501.32L576.02 502.20L574.25 501.32L573.36 500.44L572.47 498.68L571.58 494.28L571.58 491.64L572.47 487.24L573.36 485.48L574.25 484.60L576.02 483.72L573.36 484.60L571.58 487.24M581.35 487.24L582.24 491.64L582.24 494.28L581.35 498.68L580.46 500.44L579.57 501.32L577.80 502.20L580.46 501.32L582.24 498.68L583.13 494.28L583.13 491.64L582.24 487.24L580.46 484.60L577.80 483.72L579.57 484.60L580.46 485.48L581.35 487.24M576.02 483.72L577.80 483.72M576.02 502.20L577.80 502.20M674.61 494.28L679.05 492.52L681.72 490.76L682.61 489.00L682.61 487.24L681.72 485.48L680.83 484.60L678.17 483.72L674.61 483.72L671.95 484.60L671.06 485.48L670.17 487.24L670.17 488.12L671.06 489.00L671.95 488.12L671.06 487.24M670.17 502.20L670.17 499.56L671.06 496.92L672.84 495.16L678.17 492.52L680.83 490.76L681.72 489.00L681.72 487.24L680.83 485.48L679.94 484.60L678.17 483.72M682.61 497.80L682.61 499.56L681.72 501.32L680.83 502.20L677.28 502.20L672.84 499.56L677.28 501.32L679.94 501.32L681.72 500.44L682.61 499.56M670.17 500.44L671.06 499.56L672.84 499.56M688.82 487.24L687.93 491.64L687.93 494.28L688.82 498.68L690.60 501.32L693.26 502.20L691.49 501.32L690.60 500.44L689.71 498.68L688.82 494.28L688.82 491.64L689.71 487.24L690.60 485.48L691.49 484.60L693.26 483.72L690.60 484.60L688.82 487.24M698.59 487.24L699.48 491.64L699.48 494.28L698.59 498.68L697.70 500.44L696.81 501.32L695.04 502.20L697.70 501.32L699.48 498.68L700.37 494.28L700.37 491.64L699.48 487.24L697.70 484.60L695.04 483.72L696.81 484.60L697.70 485.48L698.59 487.24M693.26 483.72L695.04 483.72M693.26 502.20L695.04 502.20M706.58 487.24L705.69 491.64L705.69 494.28L706.58 498.68L708.36 501.32L711.02 502.20L709.25 501.32L708.36 500.44L707.47 498.68L706.58 494.28L706.58 491.64L707.47 487.24L708.36 485.48L709.25 484.60L711.02 483.72L708.36 484.60L706.58 487.24M716.35 487.24L717.24 491.64L717.24 494.28L716.35 498.68L715.46 500.44L714.57 501.32L712.80 502.20L715.46 501.32L717.24 498.68L718.13 494.28L718.13 491.64L717.24 487.24L715.46 484.60L712.80 483.72L714.57 484.60L715.46 485.48L716.35 487.24M711.02 483.72L712.80 483.72M711.02 502.20L712.80 502.20M555.13 93.68L553.36 96.32L550.69 97.20L548.92 97.20L547.14 96.32L546.25 94.56L546.25 91.04L547.14 88.40L548.92 85.76L550.69 84.88L548.03 85.76L546.25 88.40L545.36 91.04L545.36 93.68L546.25 95.44L547.14 96.32M555.13 87.52L555.13 88.40L556.02 88.40L556.02 87.52L555.13 85.76L553.36 84.88L550.69 84.88M564.54 97.35C565.74 94.80 568.69 94.80 568.69 97.35C568.69 99.90 565.74 99.90 564.54 97.35C563.34 94.80 560.39 94.80 560.39 97.35C560.39 99.90 563.34 99.90 564.54 97.35M573.25 86.64L589.23 86.64M573.25 91.92L589.23 91.92M596.34 82.24L595.45 86.64L595.45 89.28L596.34 93.68L598.11 96.32L600.78 97.20L599.00 96.32L598.11 95.44L597.22 93.68L596.34 89.28L596.34 86.64L597.22 82.24L598.11 80.48L599.00 79.60L600.78 78.72L598.11 79.60L596.34 82.24M606.10 82.24L606.99 86.64L606.99 89.28L606.10 93.68L605.22 95.44L604.33 96.32L602.55 97.20L605.22 96.32L606.99 93.68L607.88 89.28L607.88 86.64L606.99 82.24L605.22 79.60L602.55 78.72L604.33 79.60L605.22 80.48L606.10 82.24M600.78 78.72L602.55 78.72M600.78 97.20L602.55 97.20M614.98 95.44L614.10 96.32L614.98 97.20L615.87 96.32L614.98 95.44M622.98 82.24L622.09 86.64L622.09 89.28L622.98 93.68L624.75 96.32L627.42 97.20L625.64 96.32L624.75 95.44L623.86 93.68L622.98 89.28L622.98 86.64L623.86 82.24L624.75 80.48L625.64 79.60L627.42 78.72L624.75 79.60L622.98 82.24M632.74 82.24L633.63 86.64L633.63 89.28L632.74 93.68L631.86 95.44L630.97 96.32L629.19 97.20L631.86 96.32L633.63 93.68L634.52 89.28L634.52 86.64L633.63 82.24L631.86 79.60L629.19 78.72L630.97 79.60L631.86 80.48L632.74 82.24M627.42 78.72L629.19 78.72M627.42 97.20L629.19 97.20M646.95 97.20L646.95 78.72L644.29 81.36L642.51 82.24M646.06 79.60L646.06 97.20M642.51 97.20L650.50 97.20M555.13 125.58L553.36 128.22L550.69 129.10L548.92 129.10L547.14 128.22L546.25 126.46L546.25 122.94L547.14 120.30L548.92 117.66L550.69 116.78L548.03 117.66L546.25 120.30L545.36 122.94L545.36 125.58L546.25 127.34L547.14 128.22M555.13 119.42L555.13 120.30L556.02 120.30L556.02 119.42L555.13 117.66L553.36 116.78L550.69 116.78M564.54 129.25C565.74 126.70 568.69 126.70 568.69 129.25C568.69 131.80 565.74 131.80 564.54 129.25C563.34 126.70 560.39 126.70 560.39 129.25C560.39 131.80 563.34 131.80 564.54 129.25M573.25 118.54L589.23 118.54M573.25 123.82L589.23 123.82M596.34 114.14L595.45 118.54L595.45 121.18L596.34 125.58L598.11 128.22L600.78 129.10L599.00 128.22L598.11 127.34L597.22 125.58L596.34 121.18L596.34 118.54L597.22 114.14L598.11 112.38L599.00 111.50L600.78 110.62L598.11 111.50L596.34 114.14M606.10 114.14L606.99 118.54L606.99 121.18L606.10 125.58L605.22 127.34L604.33 128.22L602.55 129.10L605.22 128.22L606.99 125.58L607.88 121.18L607.88 118.54L606.99 114.14L605.22 111.50L602.55 110.62L604.33 111.50L605.22 112.38L606.10 114.14M600.78 110.62L602.55 110.62M600.78 129.10L602.55 129.10M614.98 127.34L614.10 128.22L614.98 129.10L615.87 128.22L614.98 127.34M622.98 114.14L622.09 118.54L622.09 121.18L622.98 125.58L624.75 128.22L627.42 129.10L625.64 128.22L624.75 127.34L623.86 125.58L622.98 121.18L622.98 118.54L623.86 114.14L624.75 112.38L625.64 111.50L627.42 110.62L624.75 111.50L622.98 114.14M632.74 114.14L633.63 118.54L633.63 121.18L632.74 125.58L631.86 127.34L630.97 128.22L629.19 129.10L631.86 128.22L633.63 125.58L634.52 121.18L634.52 118.54L633.63 114.14L631.86 111.50L629.19 110.62L630.97 111.50L631.86 112.38L632.74 114.14M627.42 110.62L629.19 110.62M627.42 129.10L629.19 129.10M640.74 114.14L639.85 118.54L639.85 121.18L640.74 125.58L642.51 128.22L645.18 129.10L643.40 128.22L642.51 127.34L641.62 125.58L640.74 121.18L640.74 118.54L641.62 114.14L642.51 112.38L643.40 111.50L645.18 110.62L642.51 111.50L640.74 114.14M650.50 114.14L651.39 118.54L651.39 121.18L650.50 125.58L649.62 127.34L648.73 128.22L646.95 129.10L649.62 128.22L651.39 125.58L652.28 121.18L652.28 118.54L651.39 114.14L649.62 111.50L646.95 110.62L648.73 111.50L649.62 112.38L650.50 114.14M645.18 110.62L646.95 110.62M645.18 129.10L646.95 129.10M659.38 111.50L663.82 111.50L668.26 110.62L659.38 110.62L657.61 119.42L659.38 117.66L662.05 116.78L664.71 116.78L667.38 117.66L669.15 119.42L670.04 122.06L670.04 123.82L669.15 126.46L667.38 128.22L664.71 129.10L662.05 129.10L659.38 128.22L658.50 127.34L657.61 125.58L657.61 124.70L658.50 123.82L659.38 124.70L658.50 125.58M664.71 116.78L666.49 117.66L668.26 119.42L669.15 122.06L669.15 123.82L668.26 126.46L666.49 128.22L664.71 129.10M555.13 157.68L553.36 160.32L550.69 161.20L548.92 161.20L547.14 160.32L546.25 158.56L546.25 155.04L547.14 152.40L548.92 149.76L550.69 148.88L548.03 149.76L546.25 152.40L545.36 155.04L545.36 157.68L546.25 159.44L547.14 160.32M555.13 151.52L555.13 152.40L556.02 152.40L556.02 151.52L555.13 149.76L553.36 148.88L550.69 148.88M564.54 161.35C565.74 158.80 568.69 158.80 568.69 161.35C568.69 163.90 565.74 163.90 564.54 161.35C563.34 158.80 560.39 158.80 560.39 161.35C560.39 163.90 563.34 163.90 564.54 161.35M573.25 150.64L589.23 150.64M573.25 155.92L589.23 155.92M596.34 146.24L595.45 150.64L595.45 153.28L596.34 157.68L598.11 160.32L600.78 161.20L599.00 160.32L598.11 159.44L597.22 157.68L596.34 153.28L596.34 150.64L597.22 146.24L598.11 144.48L599.00 143.60L600.78 142.72L598.11 143.60L596.34 146.24M606.10 146.24L606.99 150.64L606.99 153.28L606.10 157.68L605.22 159.44L604.33 160.32L602.55 161.20L605.22 160.32L606.99 157.68L607.88 153.28L607.88 150.64L606.99 146.24L605.22 143.60L602.55 142.72L604.33 143.60L605.22 144.48L606.10 146.24M600.78 142.72L602.55 142.72M600.78 161.20L602.55 161.20M614.98 159.44L614.10 160.32L614.98 161.20L615.87 160.32L614.98 159.44M622.98 146.24L622.09 150.64L622.09 153.28L622.98 157.68L624.75 160.32L627.42 161.20L625.64 160.32L624.75 159.44L623.86 157.68L622.98 153.28L622.98 150.64L623.86 146.24L624.75 144.48L625.64 143.60L627.42 142.72L624.75 143.60L622.98 146.24M632.74 146.24L633.63 150.64L633.63 153.28L632.74 157.68L631.86 159.44L630.97 160.32L629.19 161.20L631.86 160.32L633.63 157.68L634.52 153.28L634.52 150.64L633.63 146.24L631.86 143.60L629.19 142.72L630.97 143.60L631.86 144.48L632.74 146.24M627.42 142.72L629.19 142.72M627.42 161.20L629.19 161.20M640.74 146.24L639.85 150.64L639.85 153.28L640.74 157.68L642.51 160.32L645.18 161.20L643.40 160.32L642.51 159.44L641.62 157.68L640.74 153.28L640.74 150.64L641.62 146.24L642.51 144.48L643.40 143.60L645.18 142.72L642.51 143.60L640.74 146.24M650.50 146.24L651.39 150.64L651.39 153.28L650.50 157.68L649.62 159.44L648.73 160.32L646.95 161.20L649.62 160.32L651.39 157.68L652.28 153.28L652.28 150.64L651.39 146.24L649.62 143.60L646.95 142.72L648.73 143.60L649.62 144.48L650.50 146.24M645.18 142.72L646.95 142.72M645.18 161.20L646.95 161.20M658.50 146.24L657.61 150.64L657.61 153.28L658.50 157.68L660.27 160.32L662.94 161.20L661.16 160.32L660.27 159.44L659.38 157.68L658.50 153.28L658.50 150.64L659.38 146.24L660.27 144.48L661.16 143.60L662.94 142.72L660.27 143.60L658.50 146.24M668.26 146.24L669.15 150.64L669.15 153.28L668.26 157.68L667.38 159.44L666.49 160.32L664.71 161.20L667.38 160.32L669.15 157.68L670.04 153.28L670.04 150.64L669.15 146.24L667.38 143.60L664.71 142.72L666.49 143.60L667.38 144.48L668.26 146.24M662.94 142.72L664.71 142.72M662.94 161.20L664.71 161.20M682.47 161.20L682.47 142.72L679.81 145.36L678.03 146.24M681.58 143.60L681.58 161.20M678.03 161.20L686.02 161.20M386.15 527.72L387.04 528.60L393.26 532.12L394.14 533.00L394.14 535.64L393.26 536.52L390.59 537.40L387.93 537.40L385.26 536.52L384.38 535.64L384.38 534.76L385.26 534.76L385.26 535.64M394.14 533.88L393.26 533.00L387.04 529.48L386.15 528.60L386.15 526.84L387.04 525.96L389.70 525.08L392.37 525.08L395.03 525.96L395.92 526.84L395.92 527.72L395.03 527.72L395.03 526.84M415.34 515.40L415.34 543.56M420.67 515.40L414.46 515.40L414.46 543.56L420.67 543.56M427.78 537.40L427.78 518.92L433.99 537.40L440.21 518.92L440.21 537.40M441.10 518.92L441.10 537.40M433.99 534.76L428.66 518.92L425.11 518.92M437.54 537.40L443.76 537.40M425.11 537.40L430.44 537.40M443.76 518.92L440.21 518.92M449.98 525.08L449.98 543.56M450.86 543.56L450.86 525.08L447.31 525.08M447.31 543.56L453.53 543.56M450.86 527.72L452.64 525.96L454.42 525.08L456.19 525.08L458.86 525.96L460.63 527.72L461.52 530.36L461.52 532.12L460.63 534.76L458.86 536.52L456.19 537.40L457.97 536.52L459.74 534.76L460.63 532.12L460.63 530.36L459.74 527.72L457.97 525.96L456.19 525.08M450.86 534.76L452.64 536.52L454.42 537.40L456.19 537.40M478.39 534.76L476.62 536.52L473.95 537.40L472.18 537.40L469.51 536.52L467.74 534.76L466.85 532.12L466.85 530.36L467.74 527.72L469.51 525.96L472.18 525.08L474.84 525.08L476.62 525.96L478.39 527.72L478.39 528.60L477.50 529.48L476.62 528.60L477.50 527.72M472.18 525.08L470.40 525.96L468.62 527.72L467.74 530.36L467.74 532.12L468.62 534.76L470.40 536.52L472.18 537.40M489.05 515.40L489.05 543.56M483.72 515.40L489.94 515.40L489.94 543.56L483.72 543.56" fill="none" stroke="#000" stroke-width="1.25" stroke-linecap="round" stroke-linejoin="round"/>
<g transform="translate(37.90 373.00) rotate(-90)">
<path d="M9.10 -20.00 C8.83 -19.77 7.90 -19.03 7.50 -18.60 C7.10 -18.17 6.73 -17.80 6.70 -17.40 C6.67 -17.00 6.92 -16.48 7.30 -16.20 C7.68 -15.92 8.10 -15.78 9.00 -15.70 C9.90 -15.62 12.08 -15.70 12.70 -15.70M9.00 -15.70 C8.50 -15.50 6.78 -15.02 6.00 -14.50 C5.22 -13.98 4.62 -13.18 4.30 -12.60 C3.98 -12.02 3.98 -11.55 4.10 -11.00 C4.22 -10.45 4.52 -9.80 5.00 -9.30 C5.48 -8.80 6.05 -8.32 7.00 -8.00 C7.95 -7.68 10.08 -7.50 10.70 -7.40M9.00 -7.60 C8.33 -7.42 6.05 -7.02 5.00 -6.50 C3.95 -5.98 3.18 -5.17 2.70 -4.50 C2.22 -3.83 2.05 -3.17 2.10 -2.50 C2.15 -1.83 2.43 -1.17 3.00 -0.50 C3.57 0.17 4.58 0.95 5.50 1.50 C6.42 2.05 7.80 2.42 8.50 2.80 C9.20 3.18 9.53 3.43 9.70 3.80 C9.87 4.17 9.78 4.63 9.50 5.00 C9.22 5.37 8.53 5.82 8.00 6.00 C7.47 6.18 6.58 6.08 6.30 6.10M21.45 -22.02 C21.19 -22.18 20.38 -22.91 19.87 -22.99 C19.35 -23.06 18.67 -22.77 18.37 -22.46 C18.08 -22.15 17.93 -21.61 18.11 -21.14 C18.28 -20.67 18.94 -20.23 19.43 -19.64 C19.91 -19.06 20.75 -18.29 21.01 -17.62 C21.28 -16.95 21.23 -16.18 21.01 -15.60 C20.79 -15.01 20.21 -14.36 19.69 -14.10 C19.18 -13.84 18.47 -13.82 17.93 -14.01 C17.39 -14.20 16.71 -14.75 16.44 -15.24 C16.16 -15.74 16.11 -16.42 16.26 -17.00 C16.41 -17.59 16.89 -18.32 17.32 -18.76 C17.74 -19.20 18.46 -19.50 18.81 -19.64 C19.16 -19.79 19.33 -19.64 19.43 -19.64M31.61 -22.75L29.85 -20.93L28.08 -17.29L27.20 -14.56L26.31 -10.01L26.31 -6.37L27.20 -1.82L28.08 0.91L29.85 4.55L28.08 1.82L26.31 -1.82L25.43 -6.37L25.43 -10.01L26.31 -14.56L28.08 -18.20L29.85 -20.93M31.61 6.37L29.85 4.55M47.32 -10.01L46.44 -11.83L43.79 -12.74L41.14 -12.74L38.49 -11.83L37.61 -10.01L38.49 -8.19L40.26 -7.28L44.67 -6.37L46.44 -5.46L47.32 -3.64L47.32 -2.73L46.44 -0.91L43.79 0.00L41.14 0.00L38.49 -0.91L37.61 -2.73M51.92 -22.75L53.69 -20.93L55.45 -17.29L56.34 -14.56L57.22 -10.01L57.22 -6.37L56.34 -1.82L55.45 0.91L53.69 4.55L55.45 1.82L57.22 -1.82L58.10 -6.37L58.10 -10.01L57.22 -14.56L55.45 -18.20L53.69 -20.93M51.92 6.37L53.69 4.55M81.02 -22.75L81.02 6.37M86.31 -22.75L80.13 -22.75L80.13 6.37L86.31 6.37M98.68 -22.75L96.91 -20.93L95.14 -17.29L94.26 -14.56L93.38 -10.01L93.38 -6.37L94.26 -1.82L95.14 0.91L96.91 4.55L95.14 1.82L93.38 -1.82L92.49 -6.37L92.49 -10.01L93.38 -14.56L95.14 -18.20L96.91 -20.93M98.68 6.37L96.91 4.55M105.74 0.00L105.74 -19.11L111.92 0.00L118.10 -19.11L118.10 0.00M118.98 -19.11L118.98 0.00M111.92 -2.73L106.62 -19.11L103.09 -19.11M115.45 0.00L121.63 0.00M103.09 0.00L108.39 0.00M121.63 -19.11L118.10 -19.11M127.81 -12.74L127.81 6.37M128.70 6.37L128.70 -12.74L125.17 -12.74M125.17 6.37L131.35 6.37M128.70 -10.01L130.46 -11.83L132.23 -12.74L134.00 -12.74L136.64 -11.83L138.41 -10.01L139.29 -7.28L139.29 -5.46L138.41 -2.73L136.64 -0.91L134.00 0.00L135.76 -0.91L137.53 -2.73L138.41 -5.46L138.41 -7.28L137.53 -10.01L135.76 -11.83L134.00 -12.74M128.70 -2.73L130.46 -0.91L132.23 0.00L134.00 0.00M156.07 -2.73L154.30 -0.91L151.66 0.00L149.89 0.00L147.24 -0.91L145.47 -2.73L144.59 -5.46L144.59 -7.28L145.47 -10.01L147.24 -11.83L149.89 -12.74L152.54 -12.74L154.30 -11.83L156.07 -10.01L156.07 -9.10L155.19 -8.19L154.30 -9.10L155.19 -10.01M149.89 -12.74L148.12 -11.83L146.36 -10.01L145.47 -7.28L145.47 -5.46L146.36 -2.73L148.12 -0.91L149.89 0.00M176.38 -22.75L160.48 6.37M185.21 -19.11L179.91 0.00M180.79 0.00L186.09 -19.11L182.56 -19.11M182.56 -6.37L184.33 -10.01L186.09 -11.83L187.86 -12.74L189.62 -12.74L191.39 -10.92L191.39 -9.10L189.62 -3.64L189.62 -0.91L190.51 0.00L193.16 0.00L194.92 -1.82L195.80 -3.64M191.39 0.00L190.51 -0.91L190.51 -3.64L192.27 -9.10L192.27 -10.92L191.39 -11.83L189.62 -12.74M199.34 -22.75L201.10 -20.93L202.87 -17.29L203.75 -14.56L204.63 -10.01L204.63 -6.37L203.75 -1.82L202.87 0.91L201.10 4.55L202.87 1.82L204.63 -1.82L205.52 -6.37L205.52 -10.01L204.63 -14.56L202.87 -18.20L201.10 -20.93M199.34 6.37L201.10 4.55M214.88 -18.20L215.27 -17.00L215.27 -15.80L214.88 -15.00L214.49 -14.60L213.71 -14.20L212.16 -14.20L210.99 -14.60L210.60 -15.00L210.22 -15.80L210.22 -16.20L210.60 -16.60L210.99 -16.20L210.60 -15.80M212.55 -19.00L213.71 -19.00L214.88 -19.41L215.27 -20.21L215.27 -21.41L214.88 -22.21L213.71 -22.61L212.16 -22.61L210.99 -22.21L210.60 -21.81L210.22 -21.01L210.22 -20.61L210.60 -20.21L210.99 -20.61L210.60 -21.01M213.71 -22.61L214.49 -22.21L214.88 -21.41L214.88 -20.21L214.49 -19.41L213.71 -19.00L214.49 -18.60L215.27 -17.80L215.65 -17.00L215.65 -15.80L215.27 -15.00L214.88 -14.60L213.71 -14.20M224.77 -22.75L224.77 6.37M219.47 -22.75L225.65 -22.75L225.65 6.37L219.47 6.37" fill="none" stroke="#000" stroke-width="1.25" stroke-linecap="round" stroke-linejoin="round"/>
<path d="M9.00 -15.70 C8.50 -15.50 6.78 -15.02 6.00 -14.50 C5.22 -13.98 4.62 -13.18 4.30 -12.60 C3.98 -12.02 3.98 -11.55 4.10 -11.00 C4.22 -10.45 4.52 -9.80 5.00 -9.30 C5.48 -8.80 6.05 -8.32 7.00 -8.00 C7.95 -7.68 10.08 -7.50 10.70 -7.40M9.00 -7.60 C8.33 -7.42 6.05 -7.02 5.00 -6.50 C3.95 -5.98 3.18 -5.17 2.70 -4.50 C2.22 -3.83 2.05 -3.17 2.10 -2.50 C2.15 -1.83 2.43 -1.17 3.00 -0.50 C3.57 0.17 4.58 0.95 5.50 1.50 C6.42 2.05 7.80 2.42 8.50 2.80 C9.20 3.18 9.53 3.43 9.70 3.80 C9.87 4.17 9.78 4.63 9.50 5.00 C9.22 5.37 8.53 5.82 8.00 6.00 C7.47 6.18 6.58 6.08 6.30 6.10" fill="none" stroke="#000" stroke-width="1.7" stroke-linecap="round" stroke-linejoin="round"/>
</g>
</svg></body></html>
